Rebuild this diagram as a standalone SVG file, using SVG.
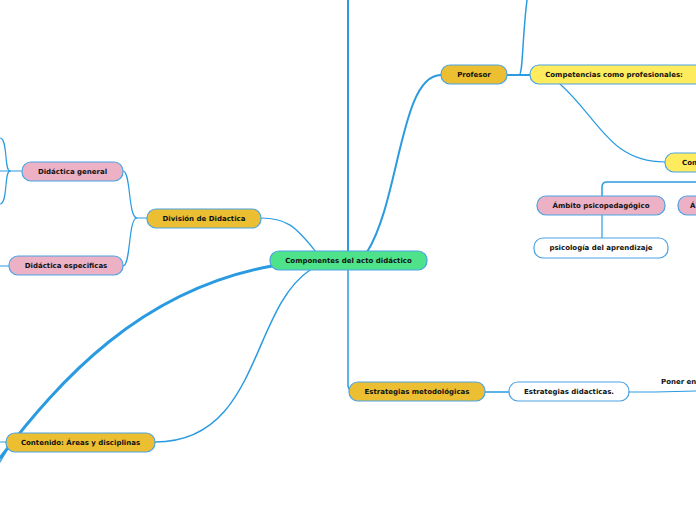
<svg xmlns="http://www.w3.org/2000/svg" width="696" height="520" viewBox="0 0 696 520">
<style>
.n{stroke:#4aa3e3;stroke-width:1.2}
.o{fill:#ecbf33}
.p{fill:#ecb1c5}
.y{fill:#ffeb5e}
.w{fill:#ffffff}
.g{fill:#4ee38a}
.t{font-family:"DejaVu Sans",Verdana,sans-serif;font-weight:bold;font-size:7px;fill:#111111;text-anchor:middle;dominant-baseline:central}
.c{fill:none;stroke:#2a9be1;stroke-linecap:round}
</style>
<rect width="696" height="520" fill="#ffffff"/>
<g id="connectors">
<path class="c" stroke-width="2" d="M348,252 V0"/>
<path class="c" stroke-width="2" d="M367,252 C400,200 400,75 441,75"/>
<path class="c" stroke-width="1.2" d="M316,252 C295,225 285,218 261,218"/>
<path class="c" stroke-width="1.5" d="M310,270 C250,310 260,442 155,442"/>
<path class="c" stroke-width="3" d="M272,266 C140,290 60,380 0,458"/>
<path class="c" stroke-width="1.5" d="M348,270 V385 Q348,391 354,391"/>
<path class="c" stroke-width="1.5" d="M507,75 H519 C523,75 522,40 527,0"/>
<path class="c" stroke-width="2" d="M507,75 H530"/>
<path class="c" stroke-width="1.2" d="M560,84 C600,120 610,162 665,162"/>
<path class="c" stroke-width="1.5" d="M696,182 H607 Q602,182 602,187 V196"/>
<path class="c" stroke-width="1.2" d="M602,215 V238"/>
<path class="c" stroke-width="1.5" d="M485,392 H509"/>
<path class="c" stroke-width="1.2" d="M629,392 H655 L696,391"/>
<path class="c" stroke-width="1.2" d="M147,218 H137 C128,218 131,171 123,171"/>
<path class="c" stroke-width="1.2" d="M137,218 C128,218 131,266 123,266"/>
<path class="c" stroke-width="1.2" d="M22,171 H10"/>
<path class="c" stroke-width="1.2" d="M10,171 C4,171 8,138 0,138"/>
<path class="c" stroke-width="1.2" d="M10,171 C4,171 8,204 0,204"/>
<path class="c" stroke-width="1.2" d="M10,171 H0"/>
<path class="c" stroke-width="1.2" d="M9,266 H0"/>
<path class="c" stroke-width="1.2" d="M6,442 H0"/>
<path class="c" stroke-width="1.2" d="M6,452 L0,462"/>
</g>
<g id="central"><rect class="n g" x="270" y="251" width="157" height="19" rx="9"/><text class="t" x="348.5" y="260.5">Componentes del acto didáctico</text></g>
<g id="profesor"><rect class="n o" x="441" y="65" width="66" height="19" rx="9"/><text class="t" x="474" y="74.5">Profesor</text></g>
<g id="competencias"><rect class="n y" x="530" y="65" width="180" height="19" rx="9"/><text class="t" x="614" y="74.5">Competencias como profesionales:</text></g>
<g id="con"><rect class="n y" x="665" y="153" width="60" height="19" rx="9"/><text class="t" x="682" y="162.5" style="text-anchor:start">Con</text></g>
<g id="ambito"><rect class="n p" x="537" y="196" width="128" height="19" rx="9"/><text class="t" x="601" y="205.5">Ámbito psicopedagógico</text></g>
<g id="ambito2"><rect class="n p" x="678" y="196" width="60" height="19" rx="9"/><text class="t" x="690" y="205.5" style="text-anchor:start">Á</text></g>
<g id="psicologia"><rect class="n w" x="534" y="238" width="134" height="20" rx="9"/><text class="t" x="601" y="248">psicología del aprendizaje</text></g>
<g id="estrategias-met"><rect class="n o" x="349" y="382" width="136" height="19" rx="9"/><text class="t" x="417" y="391.5">Estrategias metodológicas</text></g>
<g id="estrategias-did"><rect class="n w" x="509" y="382" width="120" height="19" rx="9"/><text class="t" x="569" y="391.5">Estrategias didacticas.</text></g>
<g id="poner"><text class="t" x="661" y="382" style="text-anchor:start">Poner en</text></g>
<g id="division"><rect class="n o" x="147" y="209" width="114" height="19" rx="9"/><text class="t" x="204" y="218.5">División de Didactica</text></g>
<g id="general"><rect class="n p" x="22" y="162" width="101" height="19" rx="9"/><text class="t" x="72.5" y="171.5">Didáctica general</text></g>
<g id="especificas"><rect class="n p" x="9" y="256" width="114" height="19" rx="9"/><text class="t" x="66" y="265.5">Didáctica especificas</text></g>
<g id="contenido"><rect class="n o" x="6" y="433" width="149" height="19" rx="9"/><text class="t" x="80.5" y="442.5">Contenido: Áreas y disciplinas</text></g>
</svg>
